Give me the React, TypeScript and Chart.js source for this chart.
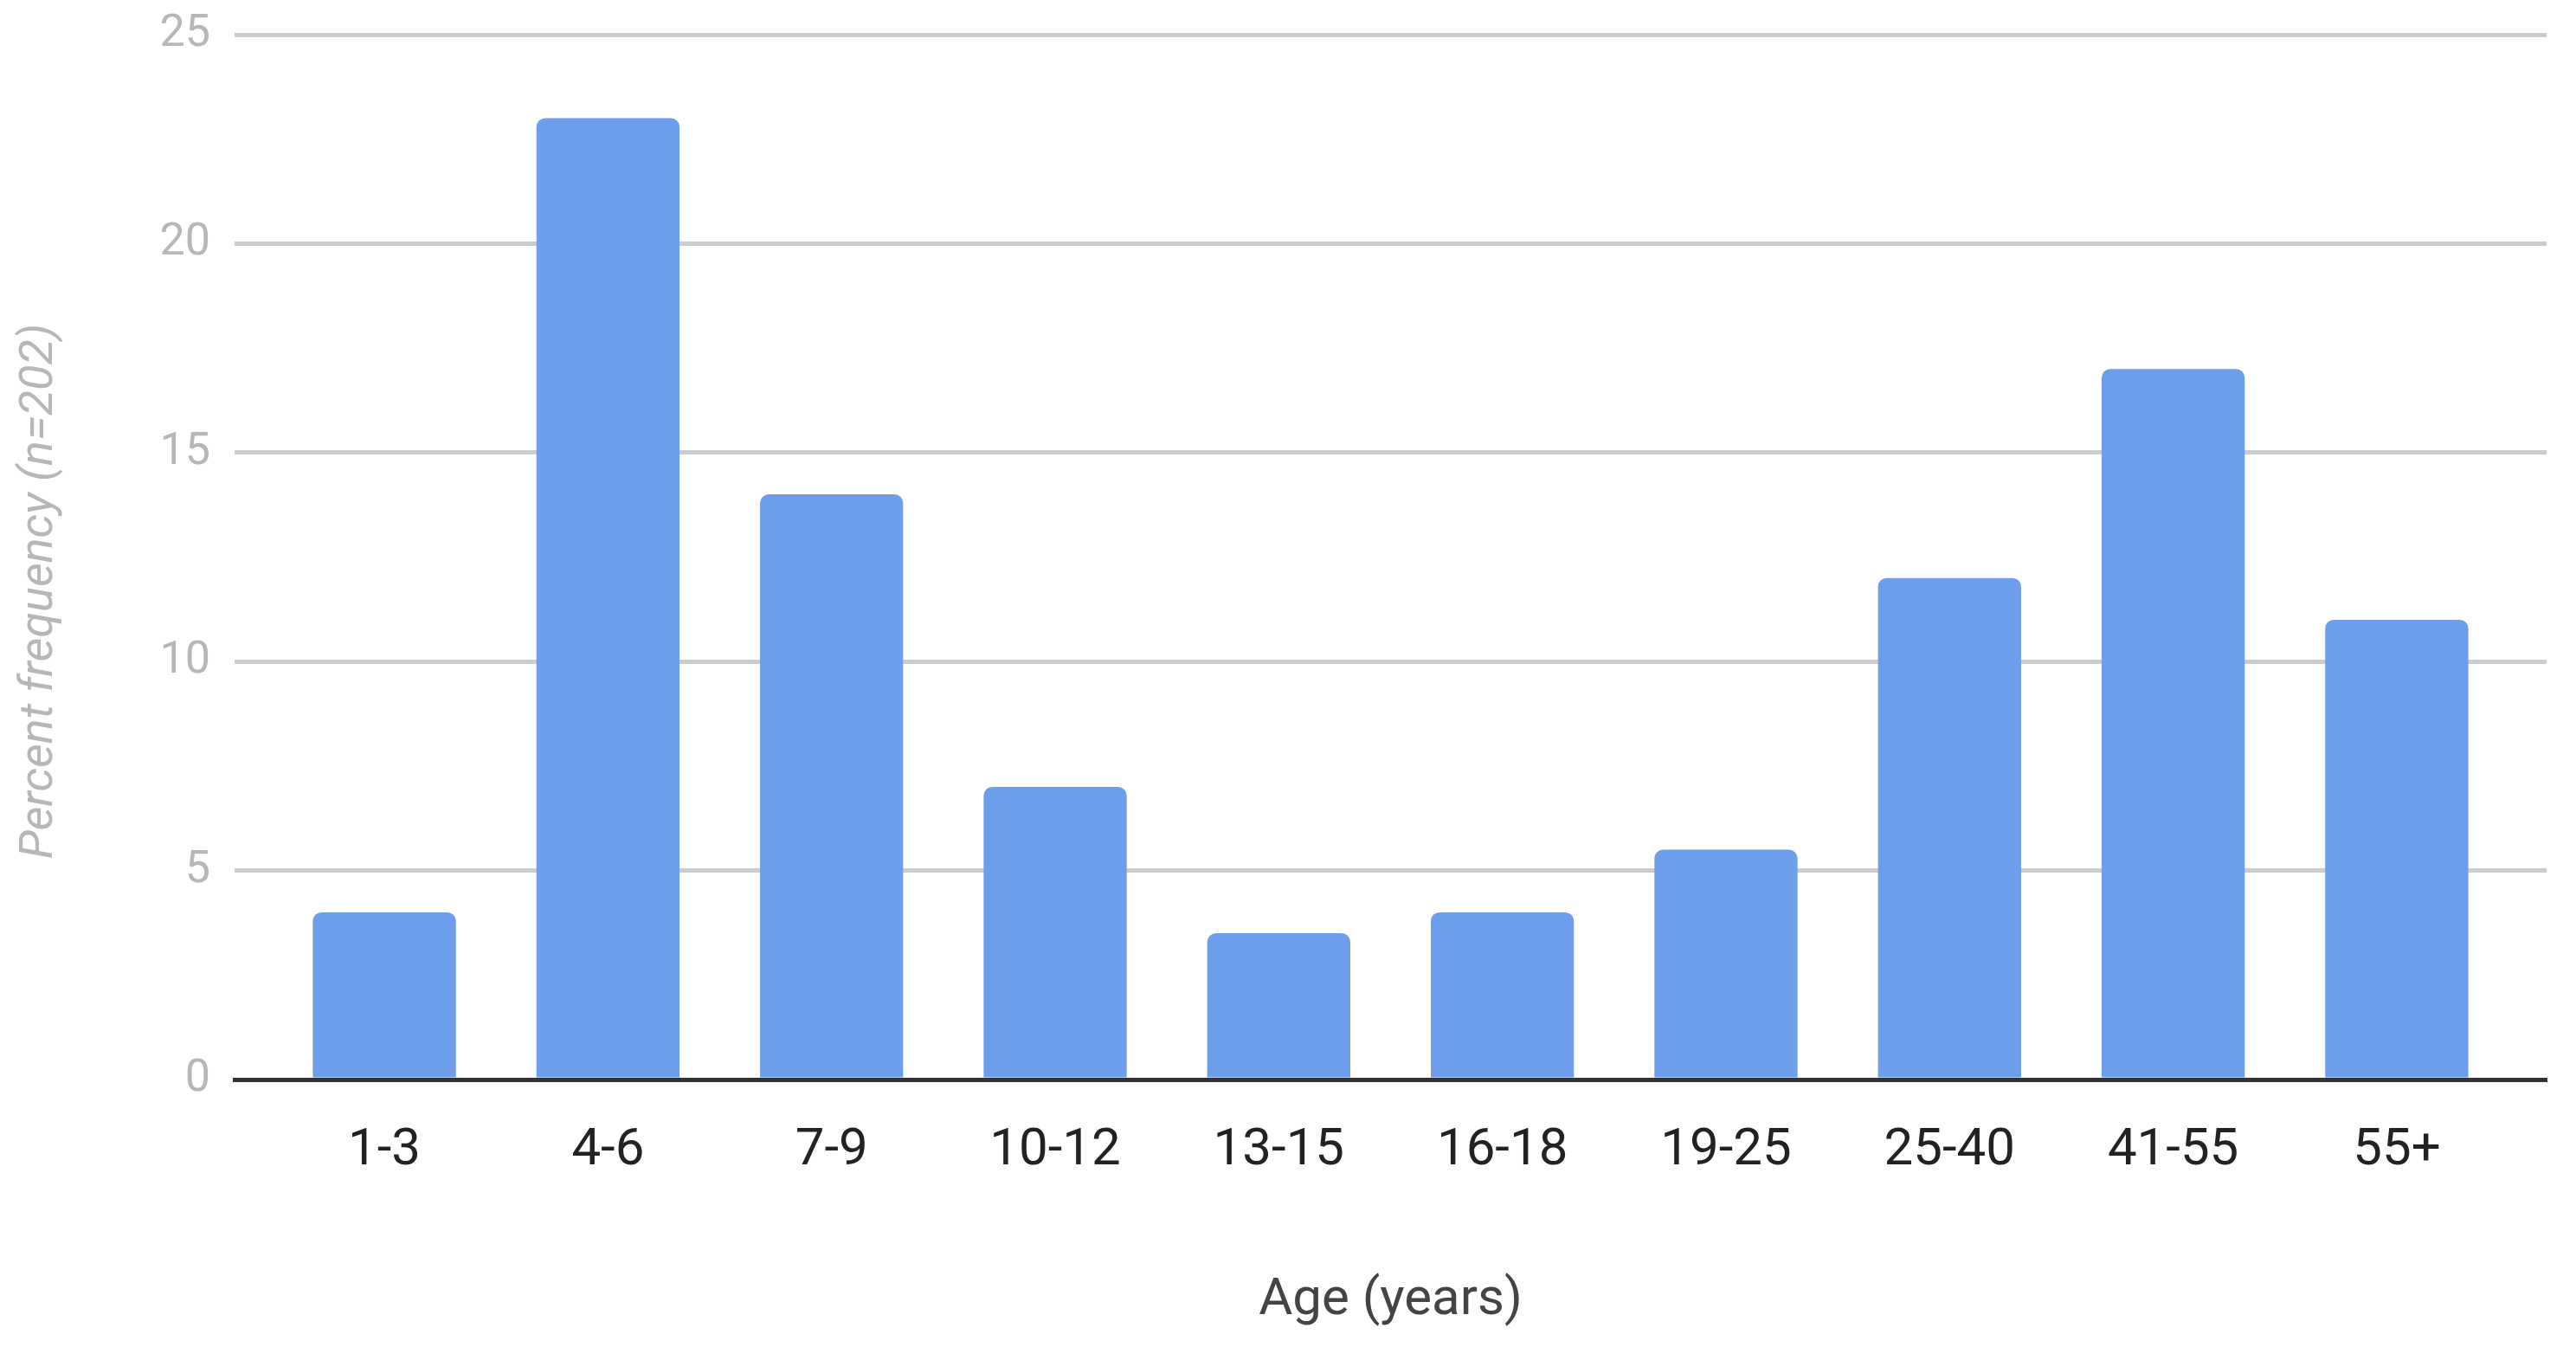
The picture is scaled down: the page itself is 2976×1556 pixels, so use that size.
import React, { useEffect, useRef } from "react";
import { Chart, registerables } from "chart.js";

Chart.register(...registerables);

const categories = ["1-3", "4-6", "7-9", "10-12", "13-15", "16-18", "19-25", "25-40", "41-55", "55+"];
const percentValues = [4, 23, 14, 7, 3.5, 4, 5.5, 12, 17, 11];
const yTicks = [0, 5, 10, 15, 20, 25];
const xTitle = "Age (years)";
const yTitle = "Percent frequency (n=202)";

const yTitlePlugin = {
  id: "yTitlePlugin",
  afterDraw(chart: any) {
    const ctx = chart.ctx;
    ctx.save();
    ctx.translate(60, 683);
    ctx.rotate(-Math.PI / 2);
    ctx.font = "italic 54px Roboto";
    ctx.fillStyle = "#b7b7b7";
    ctx.textAlign = "center";
    ctx.textBaseline = "alphabetic";
    ctx.fillText(yTitle, 0, 0);
    ctx.restore();
  },
};

export default function App() {
  const canvasRef = useRef<HTMLCanvasElement | null>(null);

  useEffect(() => {
    if (!canvasRef.current) return;
    const chart = new Chart(canvasRef.current, {
      type: "bar",
      data: {
        datasets: [
          {
            data: categories.map((_, i) => ({ x: i, y: percentValues[i] })),
            backgroundColor: "#6d9eeb",
            borderWidth: 0,
            borderRadius: 10,
            barPercentage: 0.64,
            categoryPercentage: 1,
          },
        ],
      },
      options: {
        animation: false,
        responsive: false,
        layout: { padding: { top: 40, right: 34, left: 0, bottom: 0 } },
        plugins: { legend: { display: false }, tooltip: { enabled: false } },
        scales: {
          x: {
            type: "linear",
            min: -0.67,
            max: 9.67,
            offset: false,
            z: 1,
            grid: { display: false, drawTicks: false },
            border: { display: true, color: "#333333", width: 5 },
            afterBuildTicks: (axis: any) => {
              axis.ticks = categories.map((_, i) => ({ value: i }));
            },
            afterFit: (scale: any) => {
              scale.height = 309;
              scale.paddingLeft = 0;
              scale.paddingRight = 0;
            },
            ticks: {
              autoSkip: false,
              maxRotation: 0,
              padding: 47,
              color: "#222222",
              font: { family: "Roboto", size: 60 },
              callback: (v: any) => categories[Math.round(Number(v))] ?? "",
            },
            title: {
              display: true,
              text: xTitle,
              color: "#444444",
              font: { family: "Roboto", size: 60 },
              padding: { top: 0, bottom: 17 },
            },
          },
          y: {
            min: 0,
            max: 25,
            afterBuildTicks: (axis: any) => {
              axis.ticks = yTicks.map((v) => ({ value: v }));
            },
            afterFit: (scale: any) => {
              scale.width = 271;
              scale.paddingTop = 0;
              scale.paddingBottom = 0;
            },
            grid: {
              drawTicks: false,
              color: (ctx: any) => (ctx.tick && ctx.tick.value === 0 ? "#333333" : "#cccccc"),
              lineWidth: 5,
            },
            border: { display: false },
            ticks: {
              padding: 28,
              color: "#b7b7b7",
              font: { family: "Roboto", size: 52 },
            },
          },
        },
      },
      plugins: [yTitlePlugin],
    } as any);
    return () => chart.destroy();
  }, []);

  return (
    <div style={{ position: "fixed", left: 0, top: 0, width: 2976, height: 1556, background: "#fff" }}>
      <canvas ref={canvasRef} width={2976} height={1556} style={{ display: "block" }} />
    </div>
  );
}
